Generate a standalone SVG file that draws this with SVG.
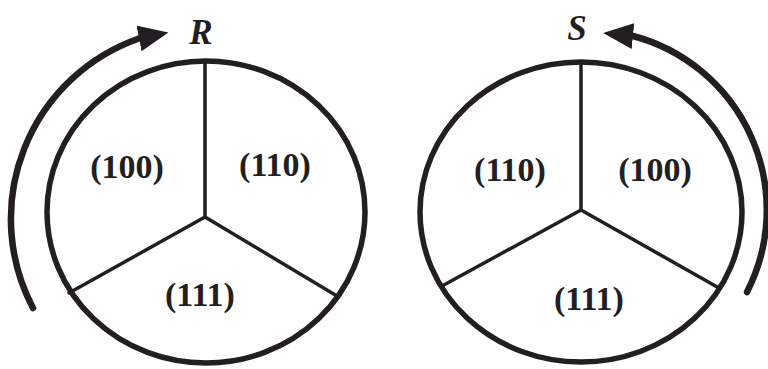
<svg xmlns="http://www.w3.org/2000/svg" width="768" height="369" viewBox="0 0 768 369">
  <defs>
    <style>
      .rim { fill: none; stroke: #221e22; stroke-width: 5.5; }
      .spoke { fill: none; stroke: #221e22; stroke-width: 3.5; stroke-linecap: round; }
      .arc { fill: none; stroke: #221e22; stroke-width: 6.5; stroke-linecap: round; }
      .lbl { font-family: "Liberation Serif", "Times New Roman", serif; font-weight: bold; font-size: 34px; fill: #221e22; text-anchor: middle; }
      .sym { font-family: "Liberation Serif", "Times New Roman", serif; font-weight: bold; font-style: italic; font-size: 35px; fill: #221e22; text-anchor: middle; }
    </style>
    <marker id="head" markerUnits="userSpaceOnUse" markerWidth="32" markerHeight="26" refX="2" refY="13" orient="auto">
      <path d="M0,0 L30,13 L0,26 z" fill="#221e22"/>
    </marker>
  </defs>
  <rect width="768" height="369" fill="#ffffff"/>

  <g id="node-R">
    <ellipse class="rim" cx="206" cy="212" rx="159" ry="151"/>
    <path class="spoke" d="M205,217 L205,61 M205,217 L69,293 M205,217 L337,296"/>
    <text class="lbl" x="127" y="178">(100)</text>
    <text class="lbl" x="275" y="176">(110)</text>
    <text class="lbl" x="200" y="306">(111)</text>
  </g>

  <g id="node-S">
    <ellipse class="rim" cx="581" cy="212" rx="161" ry="150"/>
    <path class="spoke" d="M581,210 L581,63 M581,210 L442,286 M581,210 L719,288"/>
    <text class="lbl" x="510" y="181">(110)</text>
    <text class="lbl" x="655" y="181">(100)</text>
    <text class="lbl" x="589" y="310">(111)</text>
  </g>

  <g id="connectors">
    <path class="arc" d="M33,308 A191,191 0 0 1 139,38.5 L141,38.1" marker-end="url(#head)"/>
    <path class="arc" d="M747,292 A180,180 0 0 0 633,36 L631,35.8" marker-end="url(#head)"/>
  </g>

  <g id="labels">
    <text class="sym" x="201" y="44">R</text>
    <text class="sym" x="577" y="40">S</text>
  </g>
</svg>
